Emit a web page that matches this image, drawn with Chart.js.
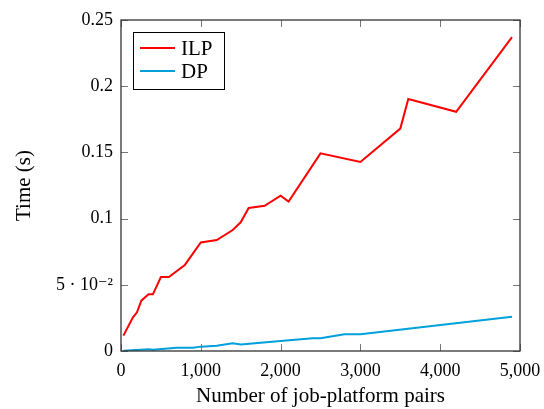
<!DOCTYPE html>
<html>
<head>
<meta charset="utf-8">
<script src="https://cdn.jsdelivr.net/npm/chart.js@4.4.1/dist/chart.umd.min.js"></script>
<style>
  html, body { margin: 0; padding: 0; background: #fff; }
  #wrap { width: 544px; height: 409px; }
</style>
</head>
<body>
<div id="wrap"><canvas id="grafico" width="544" height="409"></canvas></div>
<script>
// valores
const ilpX = [30, 150, 200, 255, 345, 400, 500, 600, 800, 1000, 1200, 1400, 1500, 1600, 1800, 2000, 2100, 2500, 3000, 3500, 3600, 4200, 4900];
const ilpY = [0.0116, 0.0254, 0.0292, 0.038, 0.0428, 0.0428, 0.0559, 0.0559, 0.065, 0.082, 0.0838, 0.0914, 0.0972, 0.108, 0.1097, 0.1173, 0.1128, 0.1493, 0.1428, 0.168, 0.1903, 0.1807, 0.237];
const dpX = [30, 350, 400, 700, 900, 1000, 1200, 1400, 1500, 2000, 2400, 2500, 2800, 3000, 4900];
const dpY = [0.0002, 0.0013, 0.0009, 0.0025, 0.0025, 0.0033, 0.004, 0.0058, 0.005, 0.0075, 0.0096, 0.0096, 0.0126, 0.0126, 0.0259];
const xTicks = [0, 1000, 2000, 3000, 4000, 5000];
const yTicks = [0, 0.05, 0.1, 0.15, 0.2, 0.25];
const yTickLabels = ["0", "5 · 10⁻²", "0.1", "0.15", "0.2", "0.25"];
const etiquetas = ["ILP", "DP"];
const colores = ["#ff0000", "#00a0dc"];

const fuente = "'Liberation Serif', 'DejaVu Serif', serif";

function puntos(xs, ys) {
    return xs.map((x, i) => ({ x: x, y: ys[i] }));
}

// marco, ticks hacia dentro y leyenda
const marco = {
    id: "marco",
    afterDatasetsDraw(chart) {
        const ctx = chart.ctx;
        const a = chart.chartArea;
        const sx = chart.scales.x, sy = chart.scales.y;
        ctx.save();
        ctx.strokeStyle = "#777";
        ctx.lineWidth = 1;
        ctx.beginPath();
        xTicks.forEach(v => {
            const p = Math.round(sx.getPixelForValue(v)) + 0.5;
            ctx.moveTo(p, a.bottom); ctx.lineTo(p, a.bottom - 7);
            ctx.moveTo(p, a.top); ctx.lineTo(p, a.top + 7);
        });
        yTicks.forEach(v => {
            const p = Math.round(sy.getPixelForValue(v)) + 0.5;
            ctx.moveTo(a.left, p); ctx.lineTo(a.left + 7, p);
            ctx.moveTo(a.right, p); ctx.lineTo(a.right - 7, p);
        });
        ctx.stroke();
        ctx.strokeStyle = "#333";
        ctx.lineWidth = 1.3;
        ctx.strokeRect(a.left, a.top, a.right - a.left, a.bottom - a.top);

        // leyenda
        const lx = a.left + 12, ly = a.top + 12, lw = 91, lh = 57;
        ctx.fillStyle = "#fff";
        ctx.fillRect(lx, ly, lw, lh);
        ctx.strokeStyle = "#000";
        ctx.lineWidth = 1;
        ctx.strokeRect(lx + 0.5, ly + 0.5, lw, lh);
        ctx.font = "21px " + fuente;
        ctx.textBaseline = "middle";
        chart.data.datasets.forEach((d, i) => {
            const yy = ly + 16 + i * 23;
            ctx.strokeStyle = d.borderColor;
            ctx.lineWidth = 2;
            ctx.beginPath();
            ctx.moveTo(lx + 7, yy); ctx.lineTo(lx + 42, yy);
            ctx.stroke();
            ctx.fillStyle = "#000";
            ctx.fillText(d.label, lx + 48, yy + 1);
        });
        ctx.restore();
    }
};

const canva = document.getElementById("grafico");

new Chart(canva, {
    type: "line",
    data: {
        datasets: [
            { label: etiquetas[0], data: puntos(ilpX, ilpY), borderColor: colores[0], borderWidth: 2, pointRadius: 0, tension: 0, fill: false },
            { label: etiquetas[1], data: puntos(dpX, dpY), borderColor: colores[1], borderWidth: 2, pointRadius: 0, tension: 0, fill: false }
        ]
    },
    options: {
        responsive: false,
        animation: false,
        layout: { padding: { left: 12, right: 24, top: 20, bottom: 0 } },
        plugins: {
            legend: { display: false },
            tooltip: { enabled: false }
        },
        scales: {
            x: {
                type: "linear",
                min: 0, max: 5000,
                grid: { display: false },
                border: { display: false },
                afterBuildTicks: s => { s.ticks = xTicks.map(v => ({ value: v })); },
                afterFit: s => { s.height = 58; },
                ticks: {
                    color: "#000",
                    padding: 1,
                    maxRotation: 0,
                    font: { family: fuente, size: 18 },
                    callback: v => v.toLocaleString("en-US")
                },
                title: {
                    display: true,
                    text: "Number of job-platform pairs",
                    color: "#000",
                    font: { family: fuente, size: 21 },
                    padding: { top: 6, bottom: 0 }
                }
            },
            y: {
                min: 0, max: 0.25,
                grid: { display: false },
                border: { display: false },
                afterBuildTicks: s => { s.ticks = yTicks.map(v => ({ value: v })); },
                afterFit: s => { s.width = 109; },
                ticks: {
                    color: "#000",
                    padding: 0,
                    font: { family: fuente, size: 18 },
                    callback: (v, i) => yTickLabels[i]
                },
                title: {
                    display: true,
                    text: "Time (s)",
                    color: "#000",
                    font: { family: fuente, size: 21 },
                    padding: { top: 0, bottom: 0 }
                }
            }
        }
    },
    plugins: [marco]
});
</script>
</body>
</html>
